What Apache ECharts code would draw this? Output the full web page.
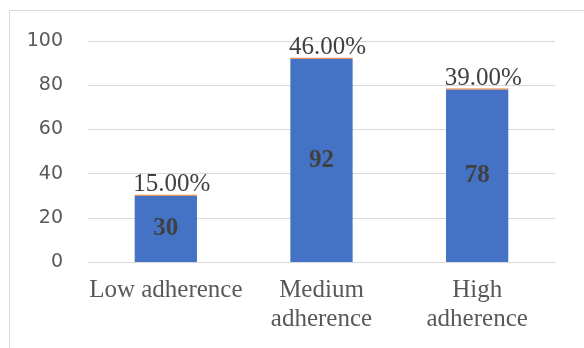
<!DOCTYPE html>
<html>
<head>
<meta charset="utf-8">
<script src="https://cdn.jsdelivr.net/npm/echarts@6/dist/echarts.min.js"></script>
<style>html,body{margin:0;padding:0;background:#fff;}#c{width:584px;height:348px;}</style>
</head>
<body>
<div id="c"></div>
<script>
const categories = ['Low adherence', 'Medium\nadherence', 'High\nadherence'];
const counts = [30, 92, 78];
const shares = [0.15, 0.46, 0.39];
const yTicks = { min: 0, max: 100, interval: 20 };

const chart = echarts.init(document.getElementById('c'), null, { renderer: 'canvas' });
chart.setOption({
  animation: false,
  backgroundColor: '#fff',
  graphic: [{
    type: 'rect', silent: true, z: -1,
    shape: { x: 9.5, y: 10.5, width: 640, height: 400 },
    style: { fill: 'none', stroke: '#d9d9d9', lineWidth: 1 }
  }],
  grid: { left: 88, right: 29, top: 41, bottom: 86 },
  xAxis: {
    type: 'category',
    data: categories,
    axisLine: { show: true, lineStyle: { color: '#d9d9d9', width: 1 } },
    axisTick: { show: false },
    axisLabel: {
      interval: 0, margin: 14,
      fontFamily: 'Liberation Serif', fontSize: 25, lineHeight: 29,
      color: '#595959'
    }
  },
  yAxis: {
    type: 'value',
    min: yTicks.min, max: yTicks.max, interval: yTicks.interval,
    axisLine: { show: false },
    axisTick: { show: false },
    splitLine: { lineStyle: { color: '#d9d9d9', width: 1 } },
    axisLabel: { margin: 25, fontFamily: 'DejaVu Sans', fontSize: 19, color: '#595959' }
  },
  series: [
    {
      type: 'bar', stack: 's', data: counts, barWidth: '40%',
      itemStyle: { color: '#4472C4' },
      label: {
        show: true, position: 'inside',
        fontFamily: 'Liberation Serif', fontSize: 25, fontWeight: 'bold', color: '#404040'
      }
    },
    {
      type: 'bar', stack: 's', data: shares, barWidth: '40%', barMinHeight: 1,
      itemStyle: { color: '#ED7D31' },
      label: {
        show: true, position: 'top', distance: -2, offset: [6, 0],
        fontFamily: 'Liberation Serif', fontSize: 25, lineHeight: 25, color: '#404040',
        formatter: p => (p.value * 100).toFixed(2) + '%'
      }
    }
  ]
});
</script>
</body>
</html>
